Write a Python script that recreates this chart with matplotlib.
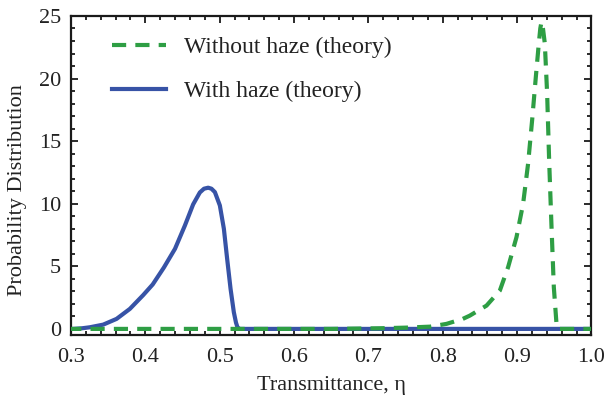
import matplotlib
matplotlib.use("Agg")
import matplotlib.pyplot as plt
from matplotlib.ticker import MultipleLocator

plt.rcParams['font.family'] = ['Liberation Serif', 'DejaVu Serif']

# With haze (theory)
haze_x = [0.295, 0.303, 0.315, 0.3255, 0.3434, 0.3614, 0.3793, 0.3972, 0.410, 0.425,
          0.440, 0.4533, 0.4644, 0.4734, 0.479, 0.4846, 0.489,
          0.4936, 0.5003, 0.5057, 0.5101, 0.5147, 0.5191, 0.522, 0.524, 0.527, 0.535,
          0.600, 0.700, 0.800, 0.900, 1.000]
haze_y = [0.0, 0.0, 0.05, 0.13, 0.34, 0.8, 1.6, 2.7, 3.55, 4.9,
          6.4, 8.26, 9.95, 10.9, 11.2, 11.28, 11.2,
          10.93, 9.86, 8.0, 5.6, 3.2, 1.33, 0.5, 0.13, 0.0, 0.0,
          0.0, 0.0, 0.0, 0.0, 0.0]

# Without haze (theory)
clear_x = [0.295, 0.400, 0.500, 0.600, 0.650, 0.715, 0.750, 0.783, 0.805, 0.827,
           0.8364, 0.8589, 0.8768, 0.8879, 0.8992, 0.9081, 0.9148, 0.9202, 0.9252, 0.9292,
           0.9312, 0.9328, 0.9348, 0.9373, 0.9404, 0.9431, 0.9463, 0.9494, 0.953, 0.955,
           0.970, 1.000]
clear_y = [0.0, 0.0, 0.0, 0.0, 0.0, 0.05, 0.1, 0.18, 0.4, 0.8,
           1.06, 1.86, 3.06, 4.93, 7.33, 10.0, 13.2, 16.66, 20.13, 22.8,
           24.0, 24.53, 24.0, 22.8, 18.8, 13.46, 8.13, 3.33, 0.4, 0.0,
           0.0, 0.0]

green = '#2E9E44'
blue = '#3753A6'

fig = plt.figure(figsize=(6.06, 3.99), dpi=100)
ax = fig.add_axes([0.117, 0.160, 0.859, 0.800])

l_blue, = ax.plot(haze_x, haze_y, color=blue, lw=3.0, label='With haze (theory)',
                  zorder=2, solid_joinstyle='round')
l_green, = ax.plot(clear_x, clear_y, color=green, lw=3.0, ls=(0, (3.4, 2.2)),
                   label='Without haze (theory)', zorder=3)

ax.set_xlim(0.3, 1.0)
ax.set_ylim(-0.5, 25)
ax.xaxis.set_minor_locator(MultipleLocator(0.02))
ax.yaxis.set_major_locator(MultipleLocator(5))
ax.yaxis.set_minor_locator(MultipleLocator(1))
xt = [0.3, 0.4, 0.5, 0.6, 0.7, 0.8, 0.9, 1.0]
xtl = ['0.3', '0.4', '0.5', '0.6', '0.7', '0.8', '0.9', '1.0']
ax.set_xticks(xt)
ax.set_xticklabels(xtl)

ax.tick_params(which='both', direction='in', top=True, right=True, width=1.3, colors='#1a1a1a')
ax.tick_params(which='major', length=5, labelsize=16, labelcolor='#222222')
ax.tick_params(axis='x', which='major', pad=9)
ax.tick_params(axis='y', which='major', pad=7)
ax.tick_params(which='minor', length=3)
for s in ax.spines.values():
    s.set_linewidth(1.6)
    s.set_color('#1a1a1a')

ax.set_xlabel('Transmittance, η', fontsize=16, color='#222222', labelpad=7)
ax.set_ylabel('Probability Distribution', fontsize=16, color='#222222')
ax.yaxis.set_label_coords(-0.085, 0.454)

leg = ax.legend(handles=[l_green, l_blue], loc='upper left', frameon=False,
                fontsize=17, handlelength=2.3, labelspacing=0.95,
                borderpad=0, borderaxespad=0,
                bbox_to_anchor=(0.079, 0.935), handletextpad=0.75)
for t in leg.get_texts():
    t.set_color('#222222')

fig.savefig('out.png', dpi=100)
